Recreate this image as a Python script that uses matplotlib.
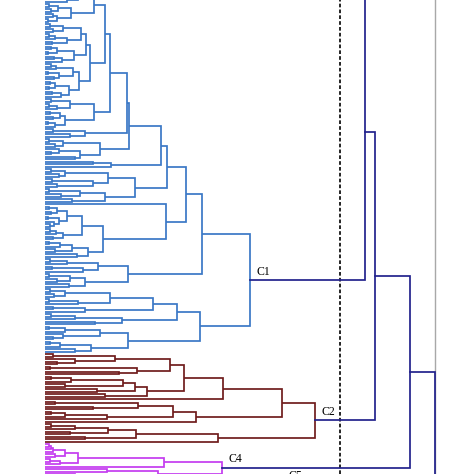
import matplotlib
matplotlib.use("Agg")
import matplotlib.pyplot as plt

# =========================
# DATOS (alturas de fusión, en unidades de distancia)
# formato: (A,B)h  -> nodo que une A y B a la altura h ; x = hoja
# =========================

ghost = "((x,x)50,(x,(x,x)40)80)150"

# --- C1 (azul) ---
t_a = "(((x,x)9,((x,x)5,x)22)33,(((x,x)4,(x,x)6)13,((x,x)8,(x,x)3)12)26)49"
t_b = ("(((((x,x)5,(x,x)8)18,(((x,x)4,x)10,(x,x)7)22)36,(((x,x)6,(x,x)3)12,((x,x)9,x)17)29)41,"
       "((((x,x)6,x)11,((x,x)3,(x,x)9)14)28,(((x,x)5,(x,x)4)10,((x,x)7,x)16)24)34)45")
blk_v = "(((x,x)6,((x,x)4,x)12)25,(((x,x)5,(x,x)8)15,((x,x)3,x)10)20)49"
blk_u = "((x,x)8,(x,x)25)40"
blk_s = "(((x,x)4,(x,x)10)18,((x,(x,x)6)14,(x,x)30)35)55"
blk_r = "((x,x)48,x)66"
blk_q = "((((x,x)6,(x,x)14)20,((x,x)7,(x,x)12)48)63,(((x,x)4,(x,x)16)35,(x,x)27)60)90"
blk_w = ("(((((x,x)4,(x,x)6)12,((x,x)3,(x,(x,x)5)9)14)22,(((x,x)5,x)11,(x,x)8)18)37,"
         "((((x,x)4,x)15,(x,x)10)27,(x,x)32)43)58")
blk_m = "((((x,x)5,x)22,((x,x)7,x)38)53,(((x,x)4,(x,x)12)25,(x,x)24)40)83"
blk_x1 = "((((x,x)5,(x,x)9)20,((x,x)4,x)33)65,((x,x)8,x)40)108"
blk_x2 = "(((x,x)6,x)30,(x,x)50)77"
blk_y1 = "(((x,x)4,x)20,(x,(x,x)8)18)55"
blk_y2 = "(((x,x)5,x)15,(x,x)30)46"
c1_heights = [60, 65, 82, 84, 116, 122, 121, 141, 157, 132, 83, 155, 205]

# --- C2 (granate) ---
r1a1u = "(((x,x)8,(x,(x,x)12)30)70,((x,x)5,(x,x)74)92)125"
r1a1l = "(((((x,x)6,x)26,(x,x)20)78,(x,x)52)90,(x,x)60)102"
r1b1 = "(((x,x)10,(x,x)48)93,(((x,x)6,x)20,x)62)128"
r2a = "((((x,x)6,x)30,(x,x)25)63,(x,x)40)91"
c2_heights = [139, 178, 151, 237, 173, 270]

# --- C4 (magenta) ---
m1a = "(((((x,x)4,x)6,x)8,(x,x)10)20,((x,x)5,x)15)33"
m2 = "((x,x)62,((x,x)30,x)80)113"
c4_heights = [119, 177]

# --- C5 (fuera del recorte) ---
c5_tree = "(x,((x,x)60,(x,x)90)150)237"

# fusiones entre grupos
top_heights = [320, 330, 365, 390]
cut_height = 295

cluster_labels = ["C1", "C2", "C4", "C5"]

BLUE = "#3a78c6"
RED = "#701c1c"
MAGENTA = "#c43cf0"
NAVY = "#22228c"
GRAY = "#a8a8a8"


# =========================
# ARMADO DEL ÁRBOL
# =========================

def join(a, b, h):
    return f"({a},{b}){h:g}"


h = c1_heights
n1 = join(t_a, t_b, h[0])
n2 = join(n1, blk_v, h[1])
n3 = join(n2, blk_u, h[2])
n4 = join(n3, blk_s, h[3])
n5 = join(n4, blk_r, h[4])
n6 = join(n5, blk_q, h[5])
p = join("x", blk_w, h[6])
n7 = join(n6, p, h[7])
b1 = join(n7, blk_m, h[8])
bx = join(blk_x1, blk_x2, h[9])
by = join(blk_y1, blk_y2, h[10])
b2 = join(bx, by, h[11])
c1_tree = join(b1, b2, h[12])

h = c2_heights
r1a = join(join(r1a1u, r1a1l, h[0]), "x", h[1])
r1b = join(r1b1, "x", h[2])
r1 = join(r1a, r1b, h[3])
r2 = join(r2a, "x", h[4])
c2_tree = join(r1, r2, h[5])

h = c4_heights
c4_tree = join(join(m1a, "x", h[0]), m2, h[1])


def parse(s, i=0):
    if s[i] == "x":
        return None, i + 1
    left, i = parse(s, i + 1)
    right, i = parse(s, i + 1)
    j = i + 1
    while j < len(s) and (s[j].isdigit() or s[j] == "."):
        j += 1
    return (float(s[i + 1:j]), left, right), j


# =========================
# DIBUJO
# =========================

LW = 1.25
counter = [0]


def draw(ax, node, color):
    if node is None:
        y = counter[0]
        counter[0] += 1
        return 0.0, y
    hh, left, right = node
    xl, yl = draw(ax, left, color)
    xr, yr = draw(ax, right, color)
    ax.plot([xl, hh, hh, xr], [yl, yl, yr, yr], color=color, lw=LW,
            clip_on=False, solid_capstyle="butt", solid_joinstyle="miter")
    return hh, (yl + yr) / 2


def link(ax, a, b, hh):
    ax.plot([a[0], hh, hh, b[0]], [a[1], a[1], b[1], b[1]], color=NAVY, lw=LW,
            clip_on=False, zorder=3, solid_joinstyle="miter")
    return hh, (a[1] + b[1]) / 2


fig = plt.figure(figsize=(4.74, 4.74), dpi=100)
ax = fig.add_axes([45 / 474, 0, 390 / 474, 1])

g = draw(ax, parse(ghost)[0], NAVY)
n_ghost = counter[0]
c1 = draw(ax, parse(c1_tree)[0], BLUE)
a = link(ax, g, c1, top_heights[0])
c2 = draw(ax, parse(c2_tree)[0], RED)
b = link(ax, a, c2, top_heights[1])
c4 = draw(ax, parse(c4_tree)[0], MAGENTA)
c = link(ax, b, c4, top_heights[2])
c5 = draw(ax, parse(c5_tree)[0], NAVY)
d = link(ax, c, c5, top_heights[3])

for lab, pt in zip(cluster_labels, [c1, c2, c4, c5]):
    ax.annotate(lab, xy=pt, xytext=(5, 2), textcoords="offset points",
                fontsize=8.5, family="Liberation Serif", va="bottom", ha="left",
                annotation_clip=False)

ax.axvline(cut_height, color="black", lw=1.2, linestyle=(0, (2.2, 1.3)))

# 1 hoja = 2.5 px ; primera hoja azul a -8 px
px = 2.5
ax.set_ylim(n_ghost + 482 / px, n_ghost + 8 / px)
ax.set_xlim(0, 390)
for side in ["top", "bottom", "left"]:
    ax.spines[side].set_visible(False)
ax.spines["right"].set_color(GRAY)
ax.spines["right"].set_linewidth(1.0)
ax.set_xticks([])
ax.set_yticks([])

fig.savefig("out.png", dpi=100)
